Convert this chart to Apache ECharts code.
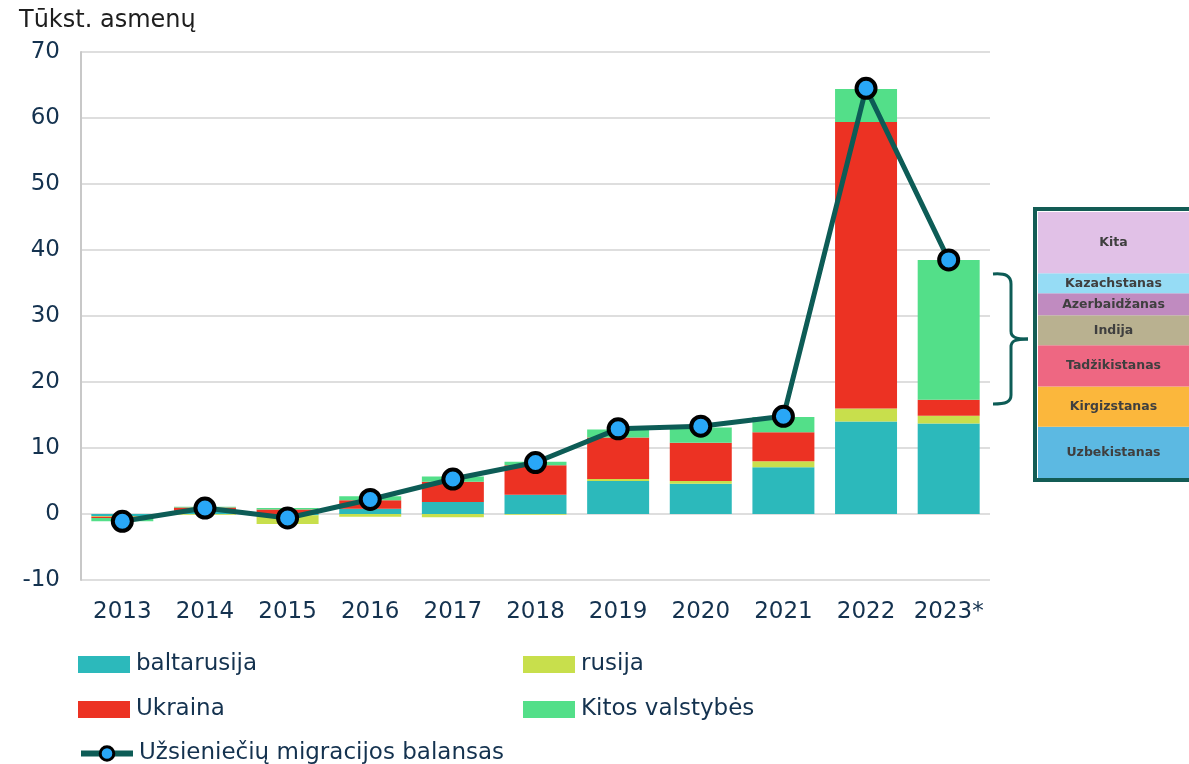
<!DOCTYPE html>
<html>
<head>
<meta charset="utf-8">
<script src="https://cdn.jsdelivr.net/npm/echarts@6/dist/echarts.min.js"></script>
<style>
  html, body { margin: 0; padding: 0; background: #fff; }
  #chart { width: 1189px; height: 764px; }
</style>
</head>
<body>
<div id="chart"></div>
<script>
const years = ["2013", "2014", "2015", "2016", "2017", "2018", "2019", "2020", "2021", "2022", "2023*"];
const baltarusija = [-0.3, 0.5, -0.2, 0.8, 1.8, 2.9, 5.0, 4.6, 7.1, 14.0, 13.7];
const rusija = [-0.1, -0.1, -1.3, -0.4, -0.5, -0.1, 0.3, 0.4, 0.9, 2.0, 1.2];
const ukraina = [-0.2, 0.5, 0.7, 1.3, 3.1, 4.5, 6.3, 5.8, 4.4, 43.4, 2.4];
const kitos = [-0.5, 0.1, 0.2, 0.6, 0.8, 0.5, 1.2, 2.3, 2.3, 5.0, 21.2];
const balansas = [-1.1, 0.9, -0.6, 2.2, 5.3, 7.8, 12.9, 13.3, 14.8, 64.5, 38.5];

// 2023 "Kitos valstybės" breakdown, bottom to top
const insetNames = ["Uzbekistanas", "Kirgizstanas", "Tadžikistanas", "Indija", "Azerbaidžanas", "Kazachstanas", "Kita"];
const insetValues = [4.1, 3.2, 3.3, 2.4, 1.75, 1.6, 4.9];
const insetColors = ["#5cb9e2", "#fbb73c", "#ee6782", "#b9b190", "#c08bc0", "#96dcf5", "#e1c1e7"];

const FONT = "DejaVu Sans";
const TEXT = "#14324f";
const DARK = "#0d5c56";

const chart = echarts.init(document.getElementById("chart"));

function barSeries(name, data, color) {
  return {
    name: name,
    type: "bar",
    stack: "total",
    barWidth: "75%",
    data: data,
    itemStyle: { color: color },
    z: 2,
  };
}

function legendAt(name, left, top, isLine) {
  const legend = {
    left: left,
    top: top,
    padding: 0,
    data: [isLine ? { name: name } : { name: name, icon: "rect" }],
    itemWidth: 52,
    itemHeight: 17,
    itemGap: 0,
    textStyle: { fontFamily: FONT, fontSize: 23, color: TEXT, padding: [0, 0, 0, 1] },
    selectedMode: false,
  };
  if (isLine) {
    legend.lineStyle = { width: 6, color: DARK };
    legend.itemStyle = { borderWidth: 3, borderColor: "#000" };
  }
  return legend;
}

function curve(x1, y1, cpx1, cpy1, cpx2, cpy2, x2, y2) {
  return {
    type: "bezierCurve",
    shape: { x1, y1, cpx1, cpy1, cpx2, cpy2, x2, y2 },
    style: { fill: null, stroke: DARK, lineWidth: 3 },
    z: 100,
  };
}

function seg(x1, y1, x2, y2) {
  return {
    type: "line",
    shape: { x1, y1, x2, y2 },
    style: { stroke: DARK, lineWidth: 3 },
    z: 100,
  };
}

const insetSeries = insetNames.map((name, i) => ({
  name: name,
  type: "bar",
  stack: "inset",
  xAxisIndex: 1,
  yAxisIndex: 1,
  barWidth: "100%",
  data: [insetValues[i]],
  itemStyle: { color: insetColors[i] },
  label: {
    show: true,
    position: "inside",
    formatter: name,
    fontFamily: FONT,
    fontWeight: "bold",
    fontSize: 12.5,
    color: "#3f3f3f",
  },
}));

chart.setOption({
  animation: false,
  textStyle: { fontFamily: FONT },
  title: {
    text: "Tūkst. asmenų",
    left: 14,
    top: 4,
    textStyle: { fontFamily: FONT, fontSize: 24, fontWeight: "normal", color: "#1e1e1e" },
  },
  legend: [
    legendAt("baltarusija", 78, 653),
    legendAt("rusija", 523, 653),
    legendAt("Ukraina", 78, 698),
    legendAt("Kitos valstybės", 523, 698),
    legendAt("Užsieniečių migracijos balansas", 78, 742, true),
  ],
  grid: [
    { left: 81, right: 199, top: 52, bottom: 184 },
    { left: 1038, top: 212, width: 168, height: 266 },
  ],
  xAxis: [
    {
      type: "category",
      data: years,
      axisLine: { show: false },
      axisTick: { show: false },
      axisLabel: { fontFamily: FONT, fontSize: 23, color: TEXT, margin: 21, interval: 0 },
    },
    {
      type: "category",
      gridIndex: 1,
      data: ["2023*"],
      show: false,
    },
  ],
  yAxis: [
    {
      type: "value",
      min: -10,
      max: 70,
      interval: 10,
      axisLine: { show: true, lineStyle: { color: "#c8c8c8", width: 2 } },
      axisTick: { show: false },
      axisLabel: { fontFamily: FONT, fontSize: 23, color: TEXT, margin: 21 },
      splitLine: { lineStyle: { color: "#dedede", width: 2 } },
    },
    {
      type: "value",
      gridIndex: 1,
      min: 0,
      max: insetValues.reduce((a, b) => a + b, 0),
      show: false,
    },
  ],
  series: [
    barSeries("baltarusija", baltarusija, "#2cb9bb"),
    barSeries("rusija", rusija, "#c8df4c"),
    barSeries("Ukraina", ukraina, "#ec3223"),
    barSeries("Kitos valstybės", kitos, "#53df89"),
    {
      name: "Užsieniečių migracijos balansas",
      type: "line",
      data: balansas,
      symbol: "circle",
      symbolSize: 19,
      lineStyle: { color: DARK, width: 5 },
      itemStyle: { color: "#29a7f7", borderColor: "#000", borderWidth: 4 },
      z: 5,
    },
    ...insetSeries,
  ],
  graphic: [
    {
      type: "rect",
      shape: { x: 1035, y: 209, width: 200, height: 271 },
      style: { fill: null, stroke: "#135c55", lineWidth: 4 },
      z: 100,
    },
    curve(993, 274, 1006, 273, 1011, 276, 1011, 284),
    seg(1011, 284, 1011, 331),
    curve(1011, 331, 1011, 337, 1015, 339, 1028, 339),
    curve(1028, 339, 1015, 339, 1011, 341, 1011, 347),
    seg(1011, 347, 1011, 395),
    curve(1011, 395, 1011, 402, 1006, 404, 993, 404),
  ],
});
</script>
</body>
</html>
